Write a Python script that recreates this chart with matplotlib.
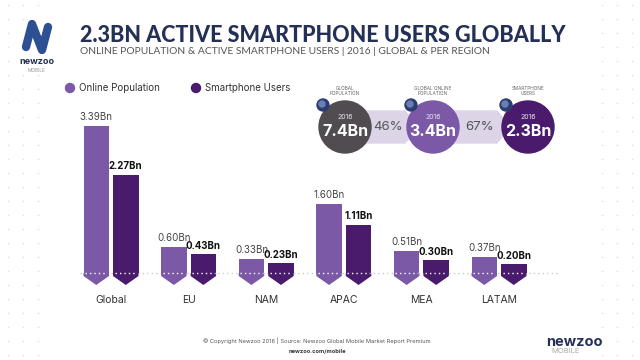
import numpy as np
import matplotlib
matplotlib.use("Agg")
import matplotlib.pyplot as plt
from matplotlib.patches import Circle, Polygon

# DATA
regions = ["Global", "EU", "NAM", "APAC", "MEA", "LATAM"]
online = [3.39, 0.60, 0.33, 1.60, 0.51, 0.37]      # Bn
smartphone = [2.27, 0.43, 0.23, 1.11, 0.30, 0.20]  # Bn
series_names = ["Online Population", "Smartphone Users"]
funnel_labels = ["GLOBAL\nPOPULATION", "GLOBAL ONLINE\nPOPULATION", "SMARTPHONE\nUSERS"]
funnel_values = ["7.4Bn", "3.4Bn", "2.3Bn"]
funnel_pct = ["46%", "67%"]

# colours
c_on = "#7b59a7"
c_sm = "#4a1b6c"
c_gray = "#504c50"
c_lav = "#ddd4e8"
navy = "#243056"
fnt = "Inter"

plt.rcParams['font.family'] = [fnt, 'DejaVu Sans']

fig = plt.figure(figsize=[6.4, 3.6], dpi=100)

# background axes in pixel coords (0..640, 0..360 top-down)
bg = fig.add_axes([0, 0, 1, 1], zorder=0)
bg.set_xlim(0, 640)
bg.set_ylim(360, 0)
bg.axis("off")

# dotted margins
for xs in ([8, 23, 38], [602, 617, 632]):
    for x in xs:
        for y in np.arange(5, 360, 14):
            bg.plot(x, y, "o", ms=1.2, color="#e2e2e2", mec="none")

# logo top-left
bg.add_patch(Circle((37, 37), 19, color="white", zorder=2))
bg.plot([26, 32, 42, 48], [47, 24, 50, 27], color="#2d4f93", lw=6,
        solid_capstyle="round", solid_joinstyle="round", zorder=3)
bg.text(37, 62, "newzoo", ha="center", va="center", fontsize=6.5,
        fontweight="bold", color=navy, zorder=3)
bg.text(37, 70, "MOBILE", ha="center", va="center", fontsize=3.5,
        color="#9a9a9a", zorder=3)

# title
bg.text(80, 35, "2.3BN ACTIVE SMARTPHONE USERS GLOBALLY", ha="left",
        va="center", fontsize=15.5, fontweight="black", color=navy,
        family=["Lato", "DejaVu Sans"])
bg.text(80, 52, "ONLINE POPULATION & ACTIVE SMARTPHONE USERS | 2016 | GLOBAL & PER REGION",
        ha="left", va="center", fontsize=7.4, color="#555555",
        family=["Lato", "DejaVu Sans"])

# legend
for x, c, name in [(70, c_on, series_names[0]), (196, c_sm, series_names[1])]:
    bg.add_patch(Circle((x, 88), 4.5, color=c))
    bg.text(x + 9, 88, name, ha="left", va="center", fontsize=7, color="#333333")

# funnel circles
cx = [345, 433, 528]
cy = 127
ccol = [c_gray, c_on, c_sm]
for x0, x1, tip in [(350, 405, 418), (440, 497, 510)]:
    bg.add_patch(Polygon([(x0, 111), (x1, 111), (tip, cy), (x1, 143), (x0, 143)],
                         color=c_lav, zorder=1))
for i in range(3):
    bg.add_patch(Circle((cx[i], cy), 26, color=ccol[i], zorder=2))
    bg.text(cx[i], cy - 10, "2016", ha="center", va="center", fontsize=5,
            color="#e8e2ee", zorder=3)
    bg.text(cx[i], cy + 4, funnel_values[i], ha="center", va="center",
            fontsize=11.5, fontweight="bold", color="white", zorder=3)
    bg.text(cx[i], cy - 36, funnel_labels[i], ha="center", va="center",
            fontsize=3.4, color="#666666", linespacing=1.2, zorder=3)
    bg.add_patch(Circle((cx[i] - 22, cy - 22), 6, color="#2c3d70", zorder=4))
    bg.add_patch(Circle((cx[i] - 23, cy - 23), 3, color="#6b7fb5", zorder=4))
for i, p in enumerate(funnel_pct):
    bg.text((cx[i] + cx[i + 1]) / 2 - 0.5, cy, p, ha="center", va="center",
            fontsize=9.5, color="#555555", zorder=3)

# footer
bg.text(317, 341, "\u00a9 Copyright Newzoo 2016 | Source: Newzoo Global Mobile Market Report Premium",
        ha="center", va="center", fontsize=4.1, color="#555555")
bg.text(317, 351, "newzoo.com/mobile", ha="center", va="center", fontsize=4.1,
        fontweight="bold", color="#333333")
bg.text(574, 342, "newzoo", ha="center", va="center", fontsize=10.5,
        fontweight="bold", color=navy)
bg.text(551, 351, "MOBILE", ha="left", va="center", fontsize=5.5, color="#aaaaaa")

# bar axes: baseline at y=273 px, 43.3 px per Bn, group spacing 77.6 px
ppb = 43.3
gsp = 77.6
ax = fig.add_axes([70 / 640, (360 - 290) / 360, 500 / 640, 180 / 360], zorder=1)
ax.set_xlim((70 - 111) / gsp, (570 - 111) / gsp)
ax.set_ylim(-(290 - 273) / ppb, (273 - 110) / ppb)
ax.axis("off")
ax.patch.set_alpha(0)

x = np.arange(len(regions))
w = 25.5 / gsp
off = 14.75 / gsp
d1 = 3 / ppb
d2 = 12 / ppb

b1 = ax.bar(x - off, online, w, color=c_on, zorder=2)
b2 = ax.bar(x + off, smartphone, w, color=c_sm, zorder=2)
for bars, c in [(b1, c_on), (b2, c_sm)]:
    for b in bars:
        l = b.get_x(); r = l + b.get_width(); m = (l + r) / 2
        ax.add_patch(Polygon([(l, 0), (l, -d1), (m, -d2), (r, -d1), (r, 0)],
                             color=c, zorder=2, lw=0))

# dotted baseline
xl = (80 - 111) / gsp
xr = (557 - 111) / gsp
ax.plot([xl, xr], [0, 0], ls=(0, (1, 2.2)), lw=1, color="#cccccc", zorder=1)
for bars in (b1, b2):
    for b in bars:
        ax.plot([b.get_x() + 0.02, b.get_x() + b.get_width() - 0.02], [0, 0],
                ls=(0, (1, 2.2)), lw=1, color="white", zorder=3)

# value labels
for xi, v in zip(x - off, online):
    ax.text(xi, v + 9 / ppb, f"{v:.2f}Bn", ha="center", va="center",
            fontsize=7, color="#444444")
for xi, v in zip(x + off, smartphone):
    ax.text(xi, v + 8.5 / ppb, f"{v:.2f}Bn", ha="center", va="center",
            fontsize=7, fontweight="bold", color="#111111")

for xi, r in zip(x, regions):
    ax.text(xi, -(300 - 273) / ppb, r, ha="center", va="center", fontsize=7.5,
            color="#333333", clip_on=False)

fig.savefig("out.png", dpi=100)
